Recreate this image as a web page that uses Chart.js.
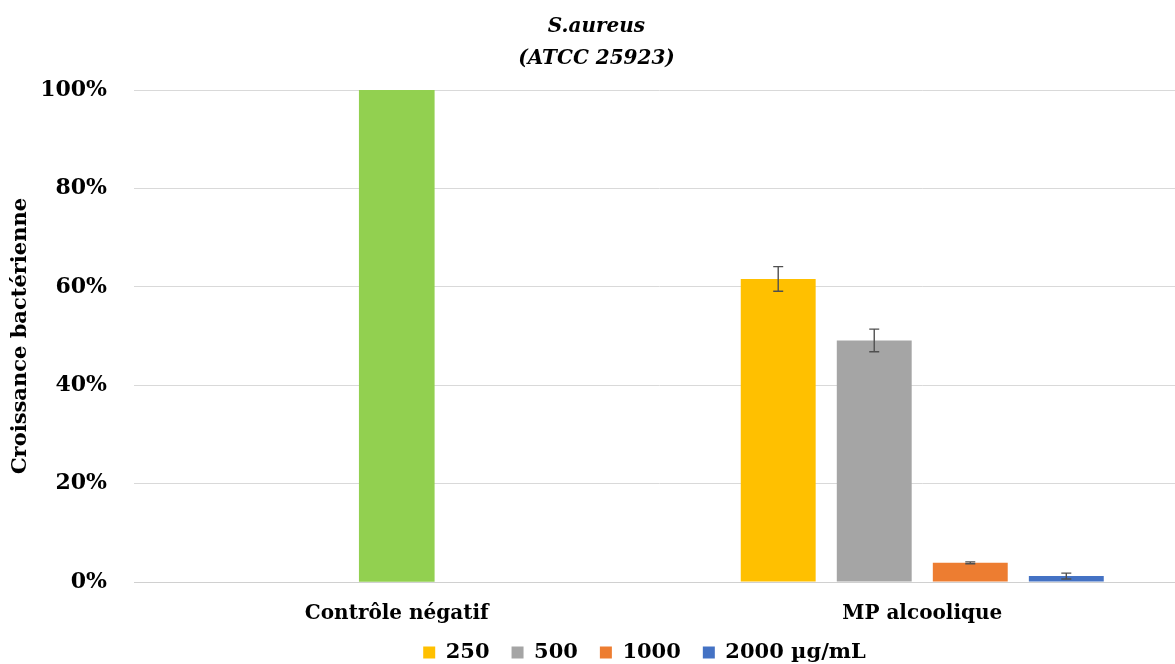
<!DOCTYPE html>
<html>
<head>
<meta charset="utf-8">
<script src="https://cdn.jsdelivr.net/npm/chart.js@4.4.1/dist/chart.umd.min.js"></script>
<style>
  html, body { margin: 0; padding: 0; overflow: hidden; background: #fff; }
  #wrap { width: 1185px; height: 664px; position: relative; }
</style>
</head>
<body>
<div id="wrap"><canvas id="chart"></canvas></div>
<script>
// Data (percent)
const categories = ['Contrôle négatif', 'MP alcoolique'];
const controlValues = [100, null];
const seriesLabels = ['250', '500', '1000', '2000 µg/mL'];
const values250 = [null, 61.6];
const values500 = [null, 49.1];
const values1000 = [null, 3.9];
const values2000 = [null, 1.2];
const err250 = [null, 2.5];
const err500 = [null, 2.3];
const err1000 = [null, 0.2];
const err2000 = [null, 0.6];
const yTicks = [0, 20, 40, 60, 80, 100];

const FONT = "'DejaVu Serif', serif";

// draws the +/- error bars from each dataset's "errors" array
const errorBars = {
    id: 'errorBars',
    afterDatasetsDraw(chart) {
        const ctx = chart.ctx;
        const y = chart.scales.y;
        ctx.save();
        ctx.strokeStyle = '#505050';
        ctx.lineWidth = 1.4;
        chart.data.datasets.forEach((ds, i) => {
            if (!ds.errors) return;
            const meta = chart.getDatasetMeta(i);
            meta.data.forEach((bar, j) => {
                const v = ds.data[j], e = ds.errors[j];
                if (v == null || e == null) return;
                const top = y.getPixelForValue(v + e);
                const bot = y.getPixelForValue(v - e);
                ctx.beginPath();
                ctx.moveTo(bar.x, top); ctx.lineTo(bar.x, bot);
                ctx.moveTo(bar.x - 5, top); ctx.lineTo(bar.x + 5, top);
                ctx.moveTo(bar.x - 5, bot); ctx.lineTo(bar.x + 5, bot);
                ctx.stroke();
            });
        });
        ctx.restore();
    }
};

// the legend in the reference sits right of centre and close under the labels
const legendShift = {
    id: 'legendShift',
    afterLayout(chart) {
        chart.legend.left += 48;
        chart.legend.right += 48;
        chart.legend.top -= 18;
        chart.legend.bottom -= 18;
    }
};

new Chart(document.getElementById('chart'), {
    type: 'bar',
    data: {
        labels: categories,
        datasets: [
            { label: 'control', data: controlValues, backgroundColor: '#92d050', grouped: false, barThickness: 75 },
            { label: seriesLabels[0], data: values250, errors: err250, backgroundColor: '#ffc000' },
            { label: seriesLabels[1], data: values500, errors: err500, backgroundColor: '#a5a5a5' },
            { label: seriesLabels[2], data: values1000, errors: err1000, backgroundColor: '#ed7d31' },
            { label: seriesLabels[3], data: values2000, errors: err2000, backgroundColor: '#4472c4' }
        ]
    },
    options: {
        responsive: true,
        maintainAspectRatio: false,
        animation: false,
        categoryPercentage: 0.731,
        barPercentage: 0.78,
        layout: { padding: { left: 8, right: 0, top: 11, bottom: -27 } },
        plugins: {
            title: {
                display: true,
                text: ['S.aureus', '(ATCC 25923)'],
                color: '#000',
                font: { family: FONT, size: 20, weight: 'bold', style: 'italic', lineHeight: 1.6 },
                padding: { top: 0, bottom: 15 }
            },
            legend: {
                position: 'bottom',
                labels: {
                    color: '#000',
                    boxWidth: 12,
                    boxHeight: 12,
                    padding: 22,
                    font: { family: FONT, size: 21, weight: 'bold' },
                    filter: item => item.datasetIndex > 0
                }
            },
            tooltip: { enabled: false }
        },
        scales: {
            x: {
                grid: { display: false },
                border: { color: '#d0d0d0', width: 1 },
                ticks: { color: '#000', padding: 12, font: { family: FONT, size: 20, weight: 'bold' } }
            },
            y: {
                min: 0,
                max: 100,
                afterBuildTicks: axis => { axis.ticks = yTicks.map(v => ({ value: v })); },
                grid: { color: '#d9d9d9', drawTicks: false },
                border: { display: false },
                ticks: {
                    color: '#000',
                    padding: 27,
                    font: { family: FONT, size: 22, weight: 'bold' },
                    callback: v => v + '%'
                },
                title: {
                    display: true,
                    text: 'Croissance bactérienne',
                    color: '#000',
                    font: { family: FONT, size: 21, weight: 'bold' },
                    padding: { top: 0, bottom: -20 }
                }
            }
        }
    },
    plugins: [errorBars, legendShift]
});
</script>
</body>
</html>
